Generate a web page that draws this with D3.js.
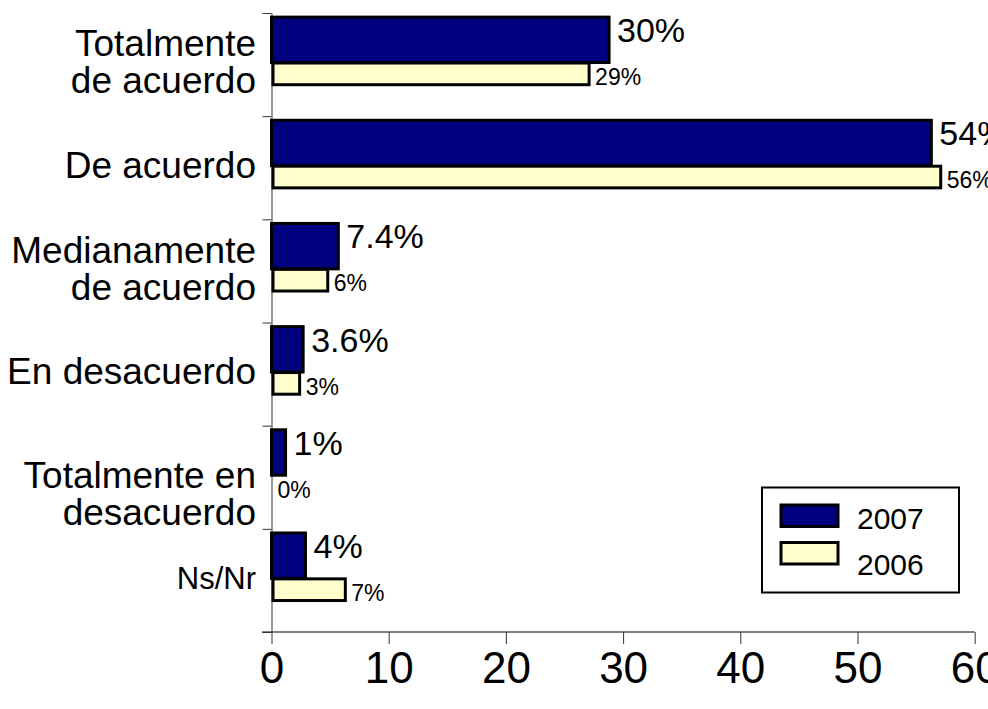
<!DOCTYPE html>
<html>
<head>
<meta charset="utf-8">
<script src="https://cdn.jsdelivr.net/npm/d3@7"></script>
<style>
  body { margin: 0; background: #fff; }
  text { font-family: Arial, "Liberation Sans", sans-serif; fill: #000; }
</style>
</head>
<body>
<div id="chart"></div>
<script>
var categories = [
    ["Totalmente", "de acuerdo"],
    ["De acuerdo"],
    ["Medianamente", "de acuerdo"],
    ["En desacuerdo"],
    ["", "Totalmente en", "desacuerdo"],
    ["Ns/Nr"]
];
var series = ["2007", "2006"];
// bar lengths as drawn in the picture
var values2007 = [28.8, 56.3, 5.7, 2.7, 1.2, 2.9];
var values2006 = [27.1, 57.1, 4.8, 2.4, 0, 6.3];
// labels as printed next to the bars
var labels2007 = ["30%", "54%", "7.4%", "3.6%", "1%", "4%"];
var labels2006 = ["29%", "56%", "6%", "3%", "0%", "7%"];
var xTicks = [0, 10, 20, 30, 40, 50, 60];

var navy = "#000080";
var cream = "#FFFFCC";

var width = 988, height = 709;

var svg = d3.select("#chart")
    .append("svg")
    .attr("width", width)
    .attr("height", height);

var x = d3.scaleLinear().domain([0, 60]).range([271.5, 974.7]);
var y = d3.scaleBand().domain(d3.range(categories.length)).range([13, 632]);
var bw = y.bandwidth();
var yEdges = d3.scaleLinear().domain([0, categories.length]).range([13, 632]);

// x axis
var xAxis = svg.append("g")
    .attr("transform", "translate(0,632)")
    .call(d3.axisBottom(x).tickValues(xTicks).tickSize(12).tickSizeOuter(0).tickPadding(8));
xAxis.select(".domain").attr("stroke", "#000").attr("d", "M262,0H" + x(60));
xAxis.selectAll(".tick line").attr("stroke", "#333");
xAxis.selectAll(".tick text")
    .style("font-size", "44px")
    .attr("dy", "0.71em");

// y axis (ticks at the category edges)
var yAxis = svg.append("g")
    .attr("transform", "translate(" + x(0) + ",0)")
    .call(d3.axisLeft(yEdges).tickValues(d3.range(categories.length + 1)).tickSize(9).tickSizeOuter(0).tickFormat(""));
yAxis.select(".domain").attr("stroke", "#333");
yAxis.selectAll(".tick line").attr("stroke", "#333");

// category labels
svg.selectAll("text.cat")
    .data(categories)
    .enter()
    .append("text")
    .attr("class", "cat")
    .attr("text-anchor", "end")
    .style("font-size", function(d) { return d[0] == "Ns/Nr" ? "31px" : "37px"; })
    .each(function(d, i) {
        var lh = 37;
        var cy = y(i) + bw / 2 - 3;
        var t = d3.select(this);
        d.forEach(function(line, j) {
            t.append("tspan")
                .attr("x", 256)
                .attr("y", cy + (j - (d.length - 1) / 2) * lh)
                .attr("dy", "0.36em")
                .text(line);
        });
    });

// bars 2007
svg.selectAll("rect.b2007")
    .data(values2007)
    .enter()
    .append("rect")
    .attr("class", "b2007")
    .attr("x", x(0))
    .attr("y", function(d, i) { return y(i) + bw * 0.04; })
    .attr("width", function(d) { return x(d) - x(0); })
    .attr("height", bw * 0.44)
    .attr("fill", navy)
    .attr("stroke", "#000")
    .attr("stroke-width", 3);

// bars 2006
svg.selectAll("rect.b2006")
    .data(values2006)
    .enter()
    .append("rect")
    .attr("class", "b2006")
    .attr("x", x(0) + 1.5)
    .attr("y", function(d, i) { return y(i) + bw * 0.485; })
    .attr("width", function(d) { return Math.max(0, x(d) - x(0) - 1.5); })
    .attr("height", bw * 0.21)
    .attr("fill", cream)
    .attr("stroke", "#000")
    .attr("stroke-width", function(d) { return d > 0 ? 3 : 0; });

// value labels
svg.selectAll("text.l2007")
    .data(values2007)
    .enter()
    .append("text")
    .attr("class", "l2007")
    .attr("x", function(d) { return x(d) + 8; })
    .attr("y", function(d, i) { return y(i) + 29; })
    .style("font-size", "34px")
    .text(function(d, i) { return labels2007[i]; });

svg.selectAll("text.l2006")
    .data(values2006)
    .enter()
    .append("text")
    .attr("class", "l2006")
    .attr("x", function(d) { return x(d) + 6; })
    .attr("y", function(d, i) { return y(i) + 72; })
    .style("font-size", "23px")
    .text(function(d, i) { return labels2006[i]; });

// legend
var legend = svg.append("g");
legend.append("rect")
    .attr("x", 762).attr("y", 487.5)
    .attr("width", 197).attr("height", 105)
    .attr("fill", "#fff")
    .attr("stroke", "#000")
    .attr("stroke-width", 2);

var legendColors = [navy, cream];
series.forEach(function(s, i) {
    legend.append("rect")
        .attr("x", 781).attr("y", 505 + i * 37.5)
        .attr("width", 57).attr("height", 21.5)
        .attr("fill", legendColors[i])
        .attr("stroke", "#000")
        .attr("stroke-width", 3);
    legend.append("text")
        .attr("x", 857).attr("y", 529 + i * 46)
        .style("font-size", "30px")
        .text(s);
});
</script>
</body>
</html>
